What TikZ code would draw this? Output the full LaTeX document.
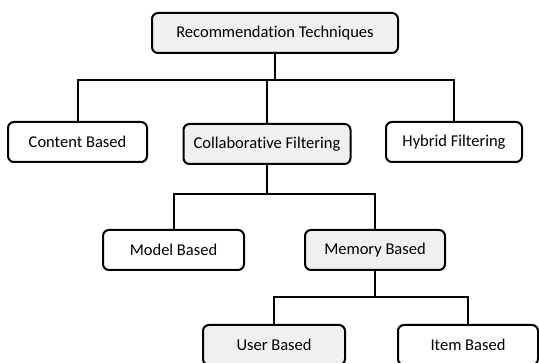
\documentclass[tikz,border=0pt]{standalone}
\usepackage{fontspec}
\setmainfont{Carlito}[Ligatures=NoCommon]
\definecolor{boxgray}{RGB}{240,240,240}

\begin{document}
\begin{tikzpicture}[x=1pt,y=-1pt,
  box/.style={draw,line width=2pt,rounded corners=6pt,minimum height=40pt,inner sep=0pt,font=\fontsize{16.5}{18}\selectfont},
  greybox/.style={box,fill=boxgray},
  link/.style={line width=2pt}]
\useasboundingbox (0,0) rectangle (539,363);
\clip (0,0) rectangle (539,363);
\node [greybox,minimum width=246pt] (tech) at (275,33) {Recommendation Techniques};
\node [box,minimum width=139pt] (content) at (77.5,142) {Content Based};
\node [greybox,minimum width=167pt] (collab) at (267,144) {Collaborative Filtering};
\node [box,minimum width=136pt] (hybrid) at (454,142) {Hybrid Filtering};
\node [box,minimum width=141pt] (model) at (173.5,250) {Model Based};
\node [greybox,minimum width=140pt] (memory) at (375,250) {Memory Based};
\node [greybox,minimum width=142pt] (user) at (274,345) {User Based};
\node [box,minimum width=140pt] (item) at (468,345) {Item Based};
\draw [link] (tech.south) -- (tech.south |- 0,80);
\draw [link] (content.north) |- (hybrid.north |- 0,80) -- (hybrid.north);
\draw [link] (collab.north) -- (collab.north |- 0,80);
\draw [link] (collab.south) -- (collab.south |- 0,194);
\draw [link] (model.north) |- (memory.north |- 0,194) -- (memory.north);
\draw [link] (memory.south) -- (memory.south |- 0,297);
\draw [link] (user.north) |- (item.north |- 0,297) -- (item.north);
\end{tikzpicture}
\end{document}
